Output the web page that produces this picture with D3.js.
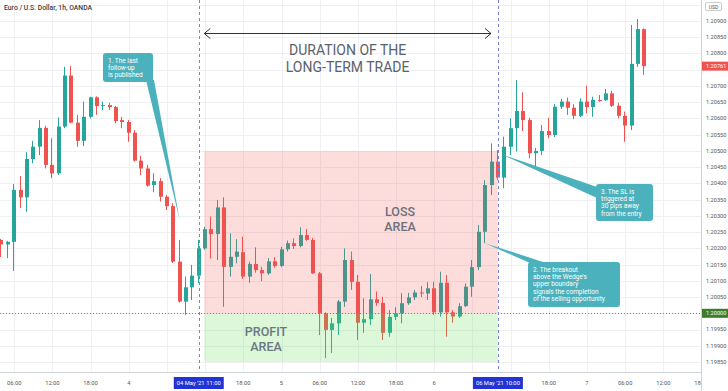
<!DOCTYPE html>
<html>
<head>
<meta charset="utf-8">
<script src="https://cdn.jsdelivr.net/npm/d3@7"></script>
<style>
  body { margin: 0; background: #fff; }
  svg { display: block; font-family: Roboto, "Noto Sans", sans-serif; }
</style>
</head>
<body>
<svg id="chart" width="728" height="391"></svg>
<script>
// EUR/USD hourly bars, first bar at 04:00 UTC on 3 May 2021
const firstBar = "2021-05-03T04:00:00Z";

const opens = [
  1.20226, 1.20212, 1.20220, 1.20380, 1.20357, 1.20475, 1.20513, 1.20571, 1.20457, 1.20431,
  1.20575, 1.20732, 1.20587, 1.20531, 1.20605, 1.20665, 1.20638, 1.20641, 1.20635, 1.20595,
  1.20589, 1.20556, 1.20470, 1.20446, 1.20395, 1.20407, 1.20359, 1.20330, 1.20159, 1.20036,
  1.20080, 1.20116, 1.20200, 1.20259, 1.20244, 1.20326, 1.20143, 1.20174, 1.20188, 1.20113,
  1.20152, 1.20133, 1.20123, 1.20160, 1.20146, 1.20197, 1.20216, 1.20207, 1.20241, 1.20226,
  1.20123, 1.20000, 1.19949, 1.19969, 1.20036, 1.20164, 1.20097, 1.19971, 1.19982, 1.20043,
  1.20032, 1.19940, 1.19989, 1.20000, 1.20031, 1.20049, 1.20064, 1.20061, 1.20077, 1.20003,
  1.20094, 1.20003, 1.19990, 1.20022, 1.20082, 1.20142, 1.20251, 1.20395, 1.20467, 1.20418,
  1.20513, 1.20570, 1.20623, 1.20595, 1.20493, 1.20500, 1.20561, 1.20549, 1.20636, 1.20652,
  1.20633, 1.20608, 1.20652, 1.20635, 1.20657, 1.20656, 1.20677, 1.20639, 1.20608, 1.20578,
  1.20768, 1.20875
];
const highs = [
  1.20229, 1.20223, 1.20398, 1.20423, 1.20496, 1.20531, 1.20595, 1.20577, 1.20539, 1.20603,
  1.20759, 1.20761, 1.20611, 1.20652, 1.20667, 1.20668, 1.20652, 1.20648, 1.20638, 1.20605,
  1.20595, 1.20564, 1.20485, 1.20457, 1.20431, 1.20416, 1.20364, 1.20339, 1.20226, 1.20113,
  1.20149, 1.20226, 1.20266, 1.20298, 1.20349, 1.20357, 1.20246, 1.20228, 1.20236, 1.20159,
  1.20203, 1.20143, 1.20170, 1.20173, 1.20205, 1.20224, 1.20231, 1.20265, 1.20259, 1.20232,
  1.20127, 1.20003, 1.19986, 1.20041, 1.20200, 1.20190, 1.20118, 1.20046, 1.20121, 1.20067,
  1.20051, 1.20010, 1.20019, 1.20062, 1.20063, 1.20072, 1.20084, 1.20096, 1.20097, 1.20128,
  1.20118, 1.20010, 1.20031, 1.20092, 1.20164, 1.20272, 1.20410, 1.20523, 1.20503, 1.20544,
  1.20600, 1.20718, 1.20680, 1.20602, 1.20509, 1.20580, 1.20602, 1.20644, 1.20660, 1.20664,
  1.20644, 1.20662, 1.20701, 1.20667, 1.20672, 1.20691, 1.20685, 1.20648, 1.20621, 1.20888,
  1.20906, 1.20877
];
const lows = [
  1.20173, 1.20170, 1.20131, 1.20324, 1.20313, 1.20462, 1.20487, 1.20446, 1.20416, 1.20426,
  1.20570, 1.20585, 1.20513, 1.20515, 1.20600, 1.20611, 1.20626, 1.20626, 1.20585, 1.20570,
  1.20528, 1.20467, 1.20426, 1.20390, 1.20373, 1.20344, 1.20318, 1.20155, 1.20033, 1.19995,
  1.20041, 1.20093, 1.20195, 1.20169, 1.20164, 1.20020, 1.20113, 1.20154, 1.20106, 1.20094,
  1.20125, 1.20099, 1.20118, 1.20140, 1.20142, 1.20190, 1.20198, 1.20203, 1.20223, 1.20121,
  1.19933, 1.19862, 1.19878, 1.19933, 1.20020, 1.20072, 1.19918, 1.19940, 1.19964, 1.20023,
  1.19918, 1.19928, 1.19979, 1.19969, 1.20026, 1.20041, 1.20050, 1.20041, 1.19995, 1.19990,
  1.19928, 1.19971, 1.19986, 1.20019, 1.20051, 1.20133, 1.20216, 1.20364, 1.20410, 1.20385,
  1.20487, 1.20498, 1.20561, 1.20477, 1.20451, 1.20487, 1.20539, 1.20543, 1.20629, 1.20611,
  1.20598, 1.20604, 1.20616, 1.20605, 1.20651, 1.20654, 1.20635, 1.20600, 1.20528, 1.20564,
  1.20759, 1.20734
];
const closes = [
  1.20212, 1.20220, 1.20380, 1.20357, 1.20475, 1.20513, 1.20571, 1.20457, 1.20431, 1.20575,
  1.20732, 1.20587, 1.20531, 1.20605, 1.20665, 1.20638, 1.20641, 1.20635, 1.20592, 1.20589,
  1.20556, 1.20470, 1.20446, 1.20393, 1.20407, 1.20359, 1.20330, 1.20159, 1.20036, 1.20080,
  1.20116, 1.20200, 1.20259, 1.20244, 1.20326, 1.20143, 1.20174, 1.20190, 1.20113, 1.20152,
  1.20133, 1.20123, 1.20160, 1.20146, 1.20197, 1.20216, 1.20207, 1.20241, 1.20226, 1.20123,
  1.20000, 1.19949, 1.19969, 1.20036, 1.20164, 1.20097, 1.19971, 1.19982, 1.20043, 1.20032,
  1.19940, 1.19989, 1.20000, 1.20031, 1.20049, 1.20064, 1.20061, 1.20077, 1.20003, 1.20094,
  1.20003, 1.19990, 1.20022, 1.20082, 1.20142, 1.20251, 1.20395, 1.20467, 1.20418, 1.20513,
  1.20570, 1.20623, 1.20595, 1.20493, 1.20500, 1.20561, 1.20549, 1.20636, 1.20652, 1.20633,
  1.20608, 1.20652, 1.20635, 1.20657, 1.20656, 1.20677, 1.20639, 1.20608, 1.20578, 1.20768,
  1.20875, 1.20761
];

const priceTicks = [1.1985, 1.1990, 1.1995, 1.2000, 1.2005, 1.2010, 1.2015, 1.2020, 1.2025,
  1.2030, 1.2035, 1.2040, 1.2045, 1.2050, 1.2055, 1.2060, 1.2065, 1.2070, 1.2075, 1.2080,
  1.2085, 1.2090];
const timeTicks = d3.utcHour.every(6).range(new Date("2021-05-03T06:00:00Z"), new Date("2021-05-07T19:00:00Z"));

const lastPrice = 1.20761;
const supportLevel = 1.20000;
const lossTop = 1.20500, profitBottom = 1.19850;
const tradeStart = "2021-05-04T11:52:00Z", tradeEnd = "2021-05-06T10:00:00Z";
const arrowEnd = "2021-05-06T08:55:00Z", arrowPrice = 1.20863;
const markers = [
  { time: "2021-05-04T11:00:00Z", day: "04 May '21", hour: "11:00" },
  { time: "2021-05-06T10:00:00Z", day: "06 May '21", hour: "10:00" }
];
const callouts = [
  { lines: ["1. The last", "follow-up", "is published"], box: [103, 53, 50, 29],
    tipTime: "2021-05-04T08:00:00Z", tipPrice: 1.20287, base: [[146, 80], [154, 80]] },
  { lines: ["2. The breakout", "above the Wedge's", "upper boundary", "signals the completion", "of the selling opportunity"],
    box: [528, 262, 92, 45], tipTime: "2021-05-06T08:00:00Z", tipPrice: 1.20216, base: [[530, 263], [546, 263]] },
  { lines: ["3. The SL is", "triggered at", "30 pips away", "from the entry"],
    box: [596, 184, 57, 37], tipTime: "2021-05-06T10:30:00Z", tipPrice: 1.20490, base: [[597, 187], [597, 198]] }
];

const width = 728, height = 391, plotRight = 701, plotBottom = 372;
const up = "#26a69a", down = "#ef5350";

const t0 = new Date(firstBar).getTime();
const candles = opens.map((o, i) => ({
  t: new Date(t0 + i * 3600e3), o, h: highs[i], l: lows[i], c: closes[i]
}));

const x = d3.scaleUtc()
  .domain([new Date("2021-05-03T06:00:00Z"), new Date("2021-05-07T00:00:00Z")])
  .range([14.2, 587]);
const y = d3.scaleLinear()
  .domain([1.2000, 1.2090])
  .range([313.3, 21]);

const svg = d3.select("#chart");

// grid
const grid = svg.append("g").attr("stroke", "#eef0f4").attr("stroke-width", 1);
grid.selectAll(".gv").data(timeTicks).join("line")
  .attr("x1", d => Math.round(x(d)) + 0.5).attr("x2", d => Math.round(x(d)) + 0.5)
  .attr("y1", 0).attr("y2", plotBottom);
grid.selectAll(".gh").data(priceTicks.concat([1.2095])).join("line")
  .attr("x1", 0).attr("x2", plotRight)
  .attr("y1", d => Math.round(y(d)) + 0.5).attr("y2", d => Math.round(y(d)) + 0.5);

// candles
const cg = svg.append("g");
cg.selectAll("line").data(candles).join("line")
  .attr("x1", d => Math.round(x(d.t)) - 0.5)
  .attr("x2", d => Math.round(x(d.t)) - 0.5)
  .attr("y1", d => y(d.h)).attr("y2", d => y(d.l))
  .attr("stroke", d => d.c >= d.o ? up : down).attr("stroke-width", 1);
cg.selectAll("rect").data(candles).join("rect")
  .attr("x", d => Math.round(x(d.t)) - 2)
  .attr("width", 4)
  .attr("y", d => y(Math.max(d.o, d.c)))
  .attr("height", d => Math.max(1, Math.abs(y(d.o) - y(d.c))))
  .attr("fill", d => d.c >= d.o ? up : down);

// trade zones
const xs = x(new Date(tradeStart)), xe = x(new Date(tradeEnd));
svg.append("rect")
  .attr("x", xs).attr("width", xe - xs)
  .attr("y", y(lossTop)).attr("height", y(supportLevel) - y(lossTop))
  .attr("fill", "rgba(245,80,80,0.2)");
svg.append("rect")
  .attr("x", xs).attr("width", xe - xs)
  .attr("y", y(supportLevel)).attr("height", y(profitBottom) - y(supportLevel))
  .attr("fill", "rgba(100,220,80,0.22)");

svg.append("text").attr("text-anchor", "middle")
  .attr("font-size", 12.5).attr("font-weight", 500).attr("fill", "#6f7079")
  .selectAll("tspan").data(["LOSS", "AREA"]).join("tspan")
  .attr("x", 400).attr("y", (d, i) => 216 + i * 14.6).text(d => d);
svg.append("text").attr("text-anchor", "middle")
  .attr("font-size", 12.5).attr("font-weight", 500).attr("fill", "#6b7781")
  .selectAll("tspan").data(["PROFIT", "AREA"]).join("tspan")
  .attr("x", 266).attr("y", (d, i) => 336 + i * 14.6).text(d => d);

// 1.20000 level
svg.append("line")
  .attr("x1", 0).attr("x2", plotRight)
  .attr("y1", Math.round(y(supportLevel)) + 0.5).attr("y2", Math.round(y(supportLevel)) + 0.5)
  .attr("stroke", "#5f9a45").attr("stroke-dasharray", "1,2");

// time markers
svg.selectAll(".marker").data(markers).join("line")
  .attr("x1", d => Math.round(x(new Date(d.time))) + 0.5)
  .attr("x2", d => Math.round(x(new Date(d.time))) + 0.5)
  .attr("y1", 0).attr("y2", plotBottom)
  .attr("stroke", "#7c80d6").attr("stroke-dasharray", "3,3");

// duration arrow
const ay = Math.round(y(arrowPrice)) + 0.5, ax1 = xs, ax2 = x(new Date(arrowEnd));
const arrow = svg.append("g").attr("stroke", "#333").attr("fill", "none").attr("stroke-width", 1);
arrow.append("line").attr("x1", ax1).attr("x2", ax2).attr("y1", ay).attr("y2", ay);
arrow.append("path").attr("d", `M${ax1 + 6},${ay - 5}L${ax1},${ay}L${ax1 + 6},${ay + 5}`);
arrow.append("path").attr("d", `M${ax2 - 6},${ay - 5}L${ax2},${ay}L${ax2 - 6},${ay + 5}`);
svg.append("text").attr("text-anchor", "middle")
  .attr("font-size", 14).attr("fill", "#5b626b")
  .selectAll("tspan").data(["DURATION OF THE", "LONG-TERM TRADE"]).join("tspan")
  .attr("x", (ax1 + ax2) / 2).attr("y", (d, i) => 55 + i * 16.5).text(d => d);

// callouts
const teal = "#4bb1bc";
callouts.forEach(c => {
  const g = svg.append("g");
  const tx = x(new Date(c.tipTime)), ty = y(c.tipPrice);
  g.append("path")
    .attr("d", `M${c.base[0][0]},${c.base[0][1]}L${tx},${ty}L${c.base[1][0]},${c.base[1][1]}Z`)
    .attr("fill", teal);
  g.append("rect")
    .attr("x", c.box[0]).attr("y", c.box[1]).attr("width", c.box[2]).attr("height", c.box[3])
    .attr("rx", 3).attr("fill", teal);
  g.append("text").attr("fill", "#fff").attr("font-size", 6.5)
    .selectAll("tspan").data(c.lines).join("tspan")
    .attr("x", c.box[0] + 5).attr("y", (d, i) => c.box[1] + 9.5 + i * 7.4).text(d => d);
});

// title
svg.append("text").attr("x", 4).attr("y", 10)
  .attr("font-size", 6.8).attr("font-weight", 500).attr("fill", "#3d3d3d")
  .text("Euro / U.S. Dollar, 1h, OANDA");

// bottom time axis (labels under the marker boxes are hidden, as on the platform)
const fmt = d => d.getUTCHours() === 0 ? String(d.getUTCDate()) : d3.utcFormat("%H:%M")(d);
const markerX = markers.map(m => x(new Date(m.time)));
const shownTicks = timeTicks.filter(d => markerX.every(mx => Math.abs(x(d) - mx) > 33));
const bottom = svg.append("g");
bottom.append("rect").attr("x", 0).attr("y", plotBottom).attr("width", width).attr("height", height - plotBottom).attr("fill", "#fff");
bottom.append("line").attr("x1", 0).attr("x2", plotRight).attr("y1", plotBottom + 0.5).attr("y2", plotBottom + 0.5).attr("stroke", "#cfd2d8");
bottom.selectAll("text").data(shownTicks).join("text")
  .attr("x", d => x(d)).attr("y", 385).attr("text-anchor", "middle")
  .attr("font-size", 5.8).attr("fill", "#555").text(fmt);

// right price axis (tick labels under the highlighted prices are hidden)
const right = svg.append("g");
right.append("rect").attr("x", plotRight).attr("y", 0).attr("width", width - plotRight).attr("height", height).attr("fill", "#fff");
right.append("line").attr("x1", plotRight + 0.5).attr("x2", plotRight + 0.5).attr("y1", 0).attr("y2", height).attr("stroke", "#cfd2d8");
right.selectAll("text").data(priceTicks.filter(p => Math.abs(y(p) - y(lastPrice)) > 8 && Math.abs(y(p) - y(supportLevel)) > 8)).join("text")
  .attr("x", 706).attr("y", d => y(d)).attr("dy", "0.35em")
  .attr("font-size", 5.6).attr("fill", "#555").text(d => d.toFixed(5));

// USD badge
right.append("rect").attr("x", 705.5).attr("y", 2.5).attr("width", 16).attr("height", 8).attr("rx", 1.5)
  .attr("fill", "#fff").attr("stroke", "#c8cbd0");
right.append("text").attr("x", 713.5).attr("y", 8.5).attr("text-anchor", "middle")
  .attr("font-size", 5).attr("fill", "#555").text("USD");

// price labels
[{ p: lastPrice, fill: down }, { p: supportLevel, fill: "#3b7d2b" }].forEach(l => {
  right.append("rect").attr("x", plotRight + 1).attr("y", y(l.p) - 4.5).attr("width", 26).attr("height", 9).attr("fill", l.fill);
  right.append("text").attr("x", 706).attr("y", y(l.p)).attr("dy", "0.35em")
    .attr("font-size", 5.6).attr("fill", "#fff").text(l.p.toFixed(5));
});

// marker date boxes
markers.forEach(m => {
  const mx = x(new Date(m.time));
  bottom.append("rect").attr("x", mx - 25).attr("y", 377).attr("width", 50).attr("height", 12).attr("fill", "#2234d6");
  bottom.append("text").attr("x", mx - 22).attr("y", 385).attr("font-size", 5.8).attr("fill", "#fff").text(m.day);
  bottom.append("text").attr("x", mx + 22).attr("y", 385).attr("text-anchor", "end").attr("font-size", 5.8).attr("fill", "#fff").text(m.hour);
});
</script>
</body>
</html>
